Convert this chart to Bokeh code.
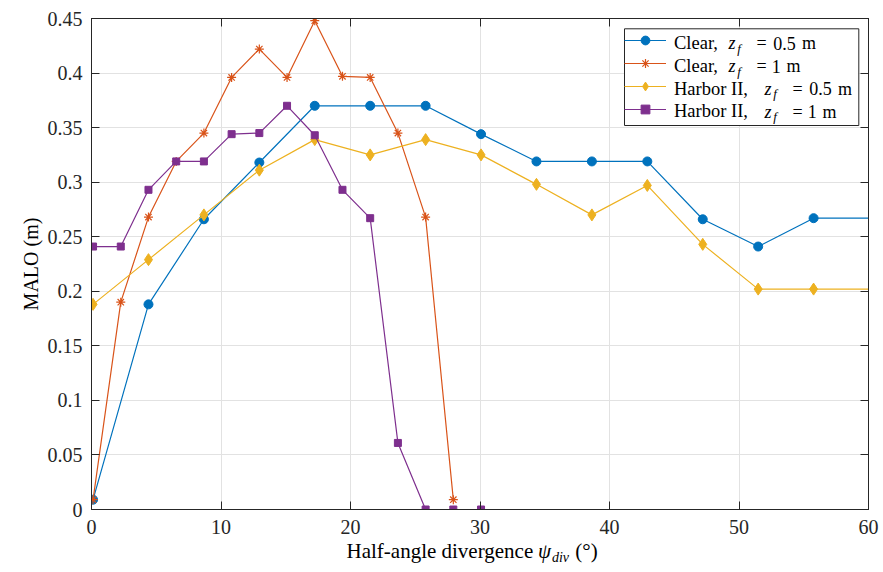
import math
from bokeh.plotting import figure
from bokeh.models import (ColumnDataSource, Range1d, FixedTicker, LinearAxis, Label,
                          Legend, LegendItem, CDSView, IndexFilter, BoxAnnotation)
from bokeh.embed import file_html
from bokeh.resources import INLINE

# ---------------- data ----------------
x_fine = [0.12, 2.26, 4.40, 6.54, 8.68, 10.82, 12.96, 15.10, 17.24, 19.38,
          21.52, 23.66, 25.80, 27.94, 30.08]
x_coarse = [0.12, 4.40, 8.68, 12.96, 17.24, 21.52, 25.80, 30.08, 34.36, 38.64,
            42.92, 47.20, 51.48, 55.76, 60.04]

clear_05 = [0.009, 0.188, 0.266, 0.318, 0.370, 0.370, 0.370, 0.344, 0.319, 0.319,
            0.319, 0.266, 0.241, 0.267, 0.267]
clear_1 = [0.009, 0.190, 0.268, 0.319, 0.345, 0.396, 0.422, 0.396, 0.448, 0.397,
           0.396, 0.345, 0.268, 0.009]
harbor_05 = [0.188, 0.229, 0.270, 0.311, 0.339, 0.325, 0.339, 0.325, 0.298, 0.270,
             0.297, 0.243, 0.202, 0.202, 0.202]
harbor_1 = [0.241, 0.241, 0.293, 0.319, 0.319, 0.344, 0.345, 0.370, 0.343, 0.293,
            0.267, 0.061, 0.0, 0.0, 0.0]

x_ticks = [0, 10, 20, 30, 40, 50, 60]
y_ticks = [0, 0.05, 0.1, 0.15, 0.2, 0.25, 0.3, 0.35, 0.4, 0.45]
y_tick_labels = ["0", "0.05", "0.1", "0.15", "0.2", "0.25", "0.3", "0.35", "0.4", "0.45"]

legend_water = ["Clear,", "Clear,", "Harbor II,", "Harbor II,"]
legend_zf = ["0.5", "1", "0.5", "1"]

x_label = "Half-angle divergence"
x_label_unit = "(\u00b0)"
y_label = "MALO (m)"

# ---------------- styling ----------------
FONT = "Liberation Serif"
AX = "#262626"
C_BLUE = "#0072BD"
C_RED = "#D95319"
C_YEL = "#EDB120"
C_PUR = "#7E2F8E"

W, H = 880, 570
FL, FR, FT, FB = 91, 868, 18, 509   # frame edges in page pixels

p = figure(width=W, height=H, output_backend="svg", toolbar_location=None,
           x_range=Range1d(0, 60), y_range=Range1d(0, 0.45),
           min_border_left=FL, min_border_right=W - FR, min_border_top=FT,
           min_border_bottom=H - FB, x_axis_label=None, y_axis_label=None)
p.background_fill_color = "white"
p.border_fill_color = "white"
p.outline_line_color = AX
p.outline_line_width = 1

for ax in (p.xaxis[0], p.yaxis[0]):
    ax.axis_line_color = AX
    ax.major_tick_line_color = AX
    ax.major_tick_in = 8
    ax.major_tick_out = 0
    ax.minor_tick_line_color = None
    ax.major_label_text_font = FONT
    ax.major_label_text_font_size = "20px"
    ax.major_label_text_color = AX
p.xaxis[0].ticker = FixedTicker(ticks=x_ticks)
p.yaxis[0].ticker = FixedTicker(ticks=y_ticks)
p.yaxis[0].major_label_overrides = {t: s for t, s in zip(y_ticks, y_tick_labels)}
p.xaxis[0].major_label_standoff = 10
p.yaxis[0].major_label_standoff = 9

# mirrored axes (ticks on top and right, no labels)
for side, tk in (("above", x_ticks), ("right", y_ticks)):
    ax = LinearAxis(ticker=FixedTicker(ticks=tk), axis_line_color=AX,
                    major_tick_line_color=AX, major_tick_in=8, major_tick_out=0,
                    minor_tick_line_color=None, major_label_text_font_size="1px",
                    major_label_text_color=None, major_label_standoff=0, axis_label=None)
    p.add_layout(ax, side)

p.xgrid.ticker = FixedTicker(ticks=x_ticks)
p.ygrid.ticker = FixedTicker(ticks=y_ticks)
p.xgrid.grid_line_color = "#e2e2e2"
p.ygrid.grid_line_color = "#e2e2e2"

XS = (FR - FL) / 60.0
YS = (FB - FT) / 0.45

# legend box (white, covers the grid)
LG_L, LG_T, LG_R, LG_B = 624, 28.3, 858.3, 125.0
box = BoxAnnotation(left=(LG_L - FL) / XS, right=(LG_R - FL) / XS,
                    top=(FB - LG_T) / YS, bottom=(FB - LG_B) / YS,
                    fill_color="white", fill_alpha=1.0, line_color=AX, line_width=1,
                    line_alpha=1.0, level="underlay")
p.add_layout(box)

# ---------------- series ----------------
src_c05 = ColumnDataSource(dict(x=x_coarse, y=clear_05))
src_c1 = ColumnDataSource(dict(x=x_fine[:len(clear_1)], y=clear_1))
src_h05 = ColumnDataSource(dict(x=x_coarse, y=harbor_05))
src_h1 = ColumnDataSource(dict(x=x_fine, y=harbor_1))

inside = [i for i, xv in enumerate(x_coarse) if xv <= 60]

LW = 1.2
l1 = p.line("x", "y", source=src_c05, line_color=C_BLUE, line_width=LW)
s1 = p.scatter("x", "y", source=src_c05, view=CDSView(filter=IndexFilter(inside)),
               marker="circle", size=9, fill_color=C_BLUE, line_color=C_BLUE)
l2 = p.line("x", "y", source=src_c1, line_color=C_RED, line_width=LW)
s2 = p.scatter("x", "y", source=src_c1, marker="asterisk", size=9,
               line_color=C_RED, line_width=1.2)
l3 = p.line("x", "y", source=src_h05, line_color=C_YEL, line_width=LW)
s3 = p.scatter("x", "y", source=src_h05, view=CDSView(filter=IndexFilter(inside)),
               marker="diamond", size=12, fill_color=C_YEL, line_color=C_YEL)
l4 = p.line("x", "y", source=src_h1, line_color=C_PUR, line_width=LW)
s4 = p.scatter("x", "y", source=src_h1, marker="square", size=7,
               fill_color=C_PUR, line_color=C_PUR)

# ---------------- legend samples (transparent, sits on the box) ----------------
legend = Legend(items=[LegendItem(label=" ", renderers=[l1, s1]),
                       LegendItem(label=" ", renderers=[l2, s2]),
                       LegendItem(label=" ", renderers=[l3, s3]),
                       LegendItem(label=" ", renderers=[l4, s4])],
                location=(LG_L - FL, FB - LG_B + 5.5), orientation="vertical",
                border_line_color=None, background_fill_alpha=0,
                padding=3, margin=0, spacing=1, glyph_width=42, glyph_height=22,
                label_height=22, label_width=180, label_standoff=4,
                label_text_font_size="1px", label_text_color=None)
p.add_layout(legend, "center")


def add_text(px, py, text, size, italic=False, align="center", angle=0.0, place="center"):
    kw = {}
    if place != "center":
        # side-panel texts: tiny line height so they do not enlarge the borders
        kw["text_line_height"] = 0.05
        shift = 0.35 * size
    else:
        shift = 0.31 * size
    # the alphabetic baseline lands a little low: compensate
    if angle == 0.0:
        py -= shift
    else:
        px -= 0.43 * size
    lab = Label(x=(px - FL) / XS, y=(FB - py) / YS, x_units="data", y_units="data",
                text=text, text_font=FONT, text_font_size=f"{size}px",
                text_font_style="italic" if italic else "normal",
                text_color="black", text_align=align, text_baseline="alphabetic",
                angle=angle, level="overlay", **kw)
    p.add_layout(lab, place)


# legend texts (names left-aligned, formula pieces centred on reference positions)
row_base = [48.5, 71.2, 93.9, 116.6]
z_c = {"Clear,": 731.5, "Harbor II,": 767.5}
for water, zf, yb in zip(legend_water, legend_zf, row_base):
    add_text(673.5, yb, water, 18.5, align="left")
    zc = z_c[water]
    add_text(zc, yb, "z", 18, italic=True)
    add_text(zc + 7.0, yb + 3.5, "f", 13, italic=True)
    add_text(zc + 29.5, yb, "=", 18)
    if zf == "0.5":
        add_text(zc + 52.5, yb, zf, 18)
        add_text(zc + 77.0, yb, "m", 18)
    else:
        add_text(zc + 44.2, yb, zf, 18)
        add_text(zc + 61.5, yb, "m", 18)

# x-axis label: main text and unit in one label, psi and subscript as separate pieces
add_text(346.0, 558.3, x_label + "\u2002" * 4 + x_label_unit, 21, align="left", place="below")
add_text(544.0, 558.3, "\u03c8", 21, italic=True, place="left")
add_text(560.0, 562.0, "div", 14, italic=True, place="above")

# y-axis label
add_text(39.5, 263.5, y_label, 20, angle=math.pi / 2, place="left")

open("out.html", "w").write(file_html(p, INLINE))
